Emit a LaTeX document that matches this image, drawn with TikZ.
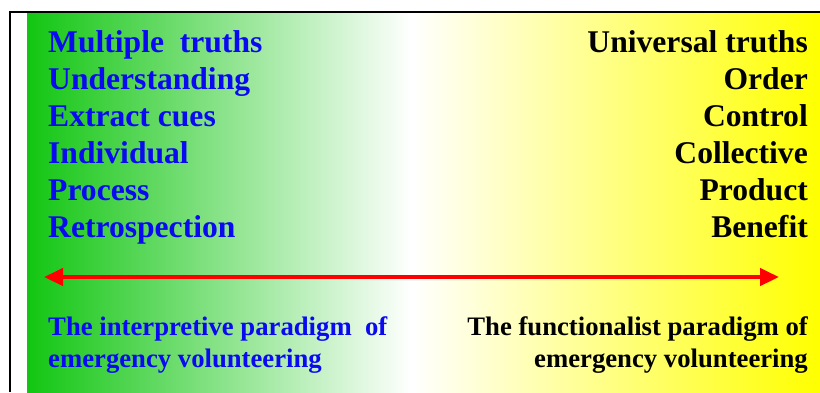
\documentclass[tikz,border=0pt]{standalone}
\usepackage{fontspec}
\setmainfont{Liberation Serif}
\usetikzlibrary{arrows.meta}
\definecolor{leftgreen}{RGB}{18,198,18}
\definecolor{rightyellow}{RGB}{255,255,0}
\definecolor{txtblue}{RGB}{10,10,240}
\tikzset{
  bigleft/.style={anchor=base west, inner sep=0pt, text=txtblue, font=\bfseries\fontsize{31.6}{37}\selectfont},
  bigright/.style={anchor=base east, inner sep=0pt, text=black, font=\bfseries\fontsize{31.6}{37}\selectfont},
  smallleft/.style={anchor=base west, inner sep=0pt, text=txtblue, font=\bfseries\fontsize{26.7}{31}\selectfont},
  smallright/.style={anchor=base east, inner sep=0pt, text=black, font=\bfseries\fontsize{26.7}{31}\selectfont},
  scalearrow/.style={red, line width=4.5pt, {Triangle[length=19pt,width=17pt]}-{Triangle[length=19pt,width=17pt]}}
}
\begin{document}
\begin{tikzpicture}[x=1pt,y=-1pt]
\useasboundingbox (0,0) rectangle (820,392);
\fill[white] (0,0) rectangle (820,392);
% gradients
\shade[left color=leftgreen, right color=white] (27,12) rectangle (412,392);
\shade[left color=white, right color=rightyellow] (412,12) rectangle (820,392);
% frame
\draw[black, line width=1.6pt] (10,392) -- (10,12) -- (820,12);
% left column
\node[bigleft] (l1) at (48,52) {Multiple\ \ truths};
\node[bigleft] (l2) at (48,89) {Understanding};
\node[bigleft] (l3) at (48,126) {Extract cues};
\node[bigleft] (l4) at (48,163) {Individual};
\node[bigleft] (l5) at (48,200) {Process};
\node[bigleft] (l6) at (48,237) {Retrospection};
% right column
\node[bigright] (r1) at (808,52) {Universal truths};
\node[bigright] (r2) at (808,89) {Order};
\node[bigright] (r3) at (808,126) {Control};
\node[bigright] (r4) at (808,163) {Collective};
\node[bigright] (r5) at (808,200) {Product};
\node[bigright] (r6) at (808,237) {Benefit};
% arrow
\coordinate (aL) at (44,277);
\coordinate (aR) at (779,277);
\draw[scalearrow] (aL) -- (aR);
% bottom labels
\node[smallleft] (bl1) at (48,335) {The interpretive paradigm\ \ of};
\node[smallleft] (bl2) at (48,367) {emergency volunteering};
\node[smallright] (br1) at (808,335) {The functionalist paradigm of};
\node[smallright] (br2) at (808,367) {emergency volunteering};
\end{tikzpicture}
\end{document}
